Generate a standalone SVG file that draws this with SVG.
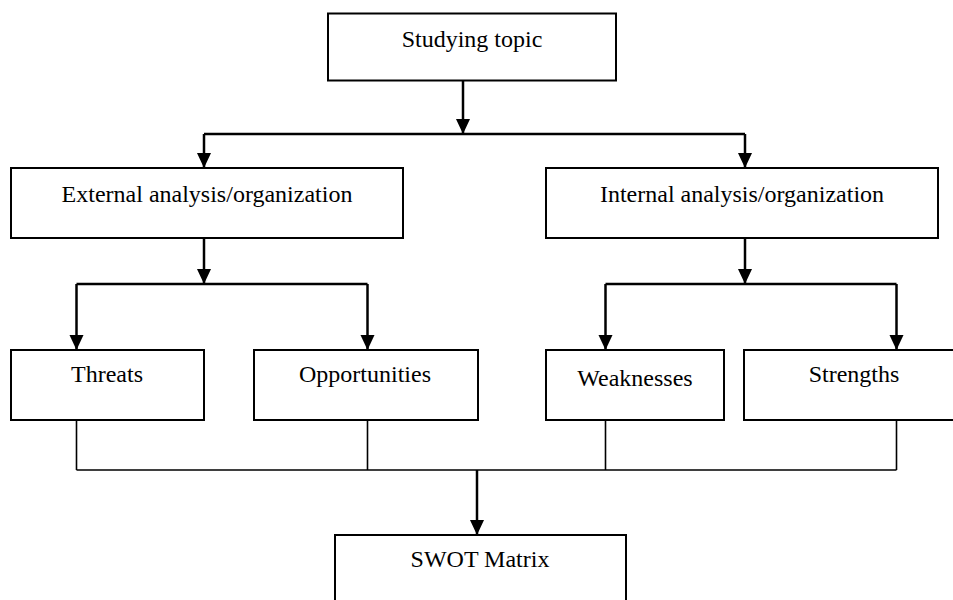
<svg xmlns="http://www.w3.org/2000/svg" width="953" height="600" viewBox="0 0 953 600">
<defs>
<style>
.box{fill:#fff;stroke:#000;stroke-width:2}
.lbl{font-family:"Liberation Serif","Times New Roman",serif;font-size:24px;fill:#000;text-anchor:middle}
.arr{fill:none;stroke:#000;stroke-width:2.5;marker-end:url(#ah)}
.ln{fill:none;stroke:#000;stroke-width:2.5}
.thin{fill:none;stroke:#000;stroke-width:1.6}
</style>
<marker id="ah" markerUnits="userSpaceOnUse" markerWidth="16" markerHeight="15" refX="15" refY="7" orient="auto">
<path d="M0,0 L15,7 L0,14 Z" fill="#000"/>
</marker>
</defs>
<rect width="953" height="600" fill="#fff"/>
<g id="connectors">
<path class="arr" d="M463,81 V134"/>
<path class="ln" d="M204,134 H745"/>
<path class="arr" d="M204,134 V168"/>
<path class="arr" d="M745,134 V168"/>
<path class="arr" d="M204,238 V284"/>
<path class="ln" d="M76.5,284 H367.5"/>
<path class="arr" d="M76.5,284 V350"/>
<path class="arr" d="M367.5,284 V350"/>
<path class="arr" d="M745,238 V284"/>
<path class="ln" d="M605.5,284 H896.5"/>
<path class="arr" d="M605.5,284 V350"/>
<path class="arr" d="M896.5,284 V350"/>
<path class="thin" d="M76.5,420 V470 M367.5,420 V470 M605.5,420 V470 M896.5,420 V470 M76.5,470 H896.5"/>
<path class="arr" d="M477,470 V535"/>
</g>
<g id="studying">
<rect class="box" x="328" y="13.5" width="288" height="67"/>
<text class="lbl" x="472" y="47">Studying topic</text>
</g>
<g id="external">
<rect class="box" x="11" y="168" width="392" height="70"/>
<text class="lbl" x="207" y="202">External analysis/organization</text>
</g>
<g id="internal">
<rect class="box" x="546" y="168" width="392" height="70"/>
<text class="lbl" x="742" y="202">Internal analysis/organization</text>
</g>
<g id="threats">
<rect class="box" x="11" y="350" width="193" height="70"/>
<text class="lbl" x="107" y="382">Threats</text>
</g>
<g id="opportunities">
<rect class="box" x="254" y="350" width="224" height="70"/>
<text class="lbl" x="365" y="382">Opportunities</text>
</g>
<g id="weaknesses">
<rect class="box" x="546" y="350" width="178" height="70"/>
<text class="lbl" x="635" y="386">Weaknesses</text>
</g>
<g id="strengths">
<rect class="box" x="744" y="350" width="215" height="70"/>
<text class="lbl" x="854" y="382">Strengths</text>
</g>
<g id="swot">
<rect class="box" x="335" y="535" width="291" height="70"/>
<text class="lbl" x="480" y="567">SWOT Matrix</text>
</g>
</svg>
